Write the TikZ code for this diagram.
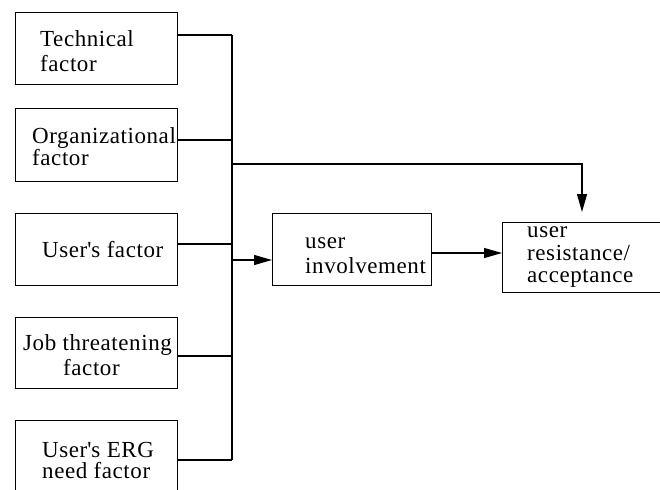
\documentclass[tikz,border=0pt]{standalone}
\usepackage{fontspec}
\setmainfont{Liberation Serif}[LetterSpace=2.5]
\usetikzlibrary{arrows.meta}
\begin{document}
\begin{tikzpicture}[x=1pt,y=-1pt,
  box/.style={draw, line width=1.1pt, rectangle, inner sep=0pt, anchor=north west},
  txt/.style={anchor=base west, inner sep=0pt, font=\fontsize{23}{25}\selectfont},
  wire/.style={line width=1.1pt},
  arr/.style={wire, -{Triangle[length=18pt,width=10pt]}}]
\useasboundingbox (0,0) rectangle (660,489);

% factor boxes
\node[box, minimum width=162pt, minimum height=72pt] (b1) at (15,12) {};
\node[box, minimum width=162pt, minimum height=73pt] (b2) at (15,108) {};
\node[box, minimum width=162pt, minimum height=72pt] (b3) at (15,213) {};
\node[box, minimum width=162pt, minimum height=71pt] (b4) at (15,317) {};
\node[box, minimum width=162pt, minimum height=90pt] (b5) at (15,420) {};

% outcome boxes
\node[box, minimum width=159pt, minimum height=72pt] (inv) at (272,213) {};
\node[box, minimum width=180pt, minimum height=70pt] (res) at (502,222) {};

% labels
\node[txt] (t1a) at (40,47) {Technical};
\node[txt] (t1b) at (40,72) {factor};
\node[txt] (t2a) at (32,143) {Organizational};
\node[txt] (t2b) at (32,165) {factor};
\node[txt] (t3a) at (42,257) {User\textquotesingle s factor};
\node[txt] (t4a) at (23,350) {Job threatening};
\node[txt] (t4b) at (63,375) {factor};
\node[txt] (t5a) at (42,457) {User\textquotesingle s ERG};
\node[txt] (t5b) at (42,478) {need factor};
\node[txt] (t6a) at (305,248) {user};
\node[txt] (t6b) at (305,273) {involvement};
\node[txt] (t7a) at (527,237) {user};
\node[txt] (t7b) at (527,260) {resistance/};
\node[txt] (t7c) at (527,282) {acceptance};

% collecting bus
\coordinate (bustop) at (232,35);
\coordinate (busbot) at (232,460);
\coordinate (branch) at (232,164);
\coordinate (corner) at (582,164);
\coordinate (feed) at (232,260);
\coordinate (link) at (431,253);

\draw[wire] (bustop) -- (busbot);
\draw[wire] (b1.east |- bustop) -- (bustop);
\draw[wire] (b2.east |- 0,140) -- (232,140);
\draw[wire] (b3.east |- 0,244) -- (232,244);
\draw[wire] (b4.east |- 0,356) -- (232,356);
\draw[wire] (b5.east |- busbot) -- (busbot);

% arrows
\draw[arr, shorten >=10pt] (branch) -- (corner) -- (corner |- res.north);
\draw[arr] (feed) -- (inv.west |- feed);
\draw[arr] (link) -- (res.west |- link);
\end{tikzpicture}
\end{document}
